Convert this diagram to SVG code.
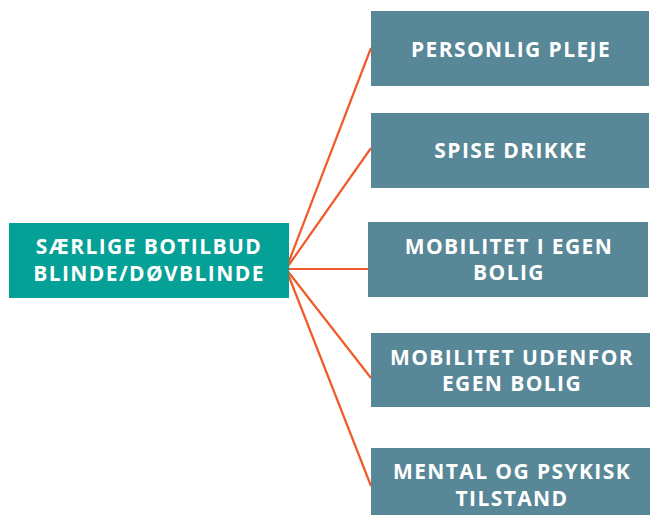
<svg xmlns="http://www.w3.org/2000/svg" width="650" height="516" viewBox="0 0 650 516">
<style>
.t{font-family:"Open Sans","Liberation Sans",sans-serif;font-weight:bold;font-size:21px;letter-spacing:1.4px;fill:#ffffff;text-anchor:middle}
.r{fill:#588797}
.c{stroke:#F05A28;stroke-width:2.2;fill:none}
</style>
<rect width="650" height="516" fill="#ffffff"/>
<g id="connectors">
<line class="c" x1="286" y1="269" x2="371" y2="48"/>
<line class="c" x1="286" y1="269" x2="371" y2="148"/>
<line class="c" x1="286" y1="269" x2="368" y2="269"/>
<line class="c" x1="286" y1="269" x2="371" y2="378"/>
<line class="c" x1="286" y1="269" x2="371" y2="486"/>
</g>
<g id="root">
<rect x="9" y="223" width="280" height="75" fill="#05A096"/>
<text class="t" x="149" y="254">SÆRLIGE BOTILBUD</text>
<text class="t" x="149" y="281">BLINDE/DØVBLINDE</text>
</g>
<g id="n1">
<rect class="r" x="371" y="11" width="278" height="75"/>
<text class="t" x="511" y="57">PERSONLIG PLEJE</text>
</g>
<g id="n2">
<rect class="r" x="371" y="113" width="278" height="75"/>
<text class="t" x="511" y="158">SPISE DRIKKE</text>
</g>
<g id="n3">
<rect class="r" x="368" y="222" width="280" height="75"/>
<text class="t" x="509" y="254">MOBILITET I EGEN</text>
<text class="t" x="509" y="280">BOLIG</text>
</g>
<g id="n4">
<rect class="r" x="371" y="333" width="279" height="74"/>
<text class="t" x="512" y="365">MOBILITET UDENFOR</text>
<text class="t" x="512" y="391">EGEN BOLIG</text>
</g>
<g id="n5">
<rect class="r" x="371" y="448" width="279" height="67"/>
<text class="t" x="512" y="479">MENTAL OG PSYKISK</text>
<text class="t" x="512" y="506">TILSTAND</text>
</g>
</svg>
